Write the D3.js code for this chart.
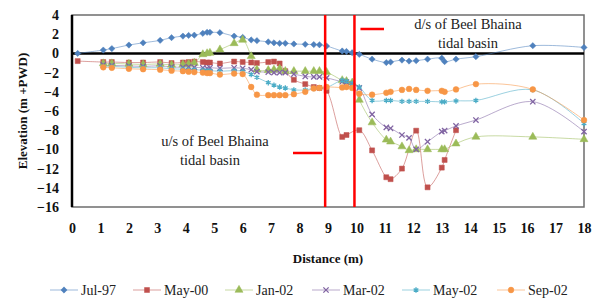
<!DOCTYPE html>
<html>
<head>
<meta charset="utf-8">
<script src="https://cdn.jsdelivr.net/npm/d3@7"></script>
<style>
  body { margin: 0; background: #fff; }
  text { font-family: "Liberation Serif", "Times New Roman", serif; }
</style>
</head>
<body>
<svg id="chart" width="600" height="298"></svg>
<script>
// survey positions (km along river)
const distance = [0.2, 1.1, 1.4, 2.0, 2.5, 3.1, 3.5, 3.9, 4.1, 4.3, 4.6, 4.75, 4.85, 5.2, 5.7, 6.0,
  6.3, 6.5, 6.9, 7.1, 7.3, 7.5, 7.8, 8.2, 8.5, 8.7, 8.95, 9.5, 9.65, 9.85, 10.1, 10.55,
  11.05, 11.2, 11.6, 11.85, 12.1, 12.5, 13.0, 13.1, 13.5, 14.2, 16.2, 18]

const jul97 = [0.0, 0.35, 0.5, 0.87, 1.1, 1.36, 1.64, 1.8, 1.87, 1.9, 2.09, 2.2, 2.2, 2.16, 1.8, 1.67,
  1.4, 1.33, 1.2, 1.1, 1.05, 1.05, 0.98, 0.95, 0.92, 0.9, 0.77, 0.25, 0.2, 0.07, -0.1, -0.6,
  -0.96, -0.9, -0.7, -0.8, -0.76, -0.6, -0.5, -0.86, -0.6, -0.34, 0.8, 0.62]
const may00 = [-0.8, -0.9, -0.9, -0.95, -0.95, -0.9, -1.0, -0.95, -0.9, -0.85, -0.9, -0.95, -0.95, -1.05, -0.85, -0.9,
  -0.95, -1.0, -0.9, -0.85, -1.05, -1.85, -2.75, -3.2, -3.5, -3.6, -3.9, -8.7, -8.5, null, -8.0, -10.1,
  -12.9, -13.1, -12.0, null, -8.05, -13.95, -11.9, -11.1, -8.0, null, null, null]
const jan02 = [null, -1.05, -1.05, -1.1, -1.15, -1.1, -1.2, -1.15, -1.1, -1.0, -0.1, 0.0, 0.05, 0.4, 1.05, 1.4,
  -0.3, -1.7, -1.75, -1.7, -1.6, -1.85, -1.85, -1.85, -1.85, -1.85, -1.95, -2.8, -2.9, -3.05, -4.85, -7.2,
  -9.0, -9.2, -9.7, -10.1, -10.0, -10.0, -10.0, -10.0, -9.4, -8.7, -8.7, -8.95]
const mar02 = [null, -1.2, -1.25, -1.3, -1.35, -1.3, -1.4, -1.45, -1.4, -1.45, -1.5, -1.55, -1.5, -1.55, -1.5, -1.55,
  -1.7, -1.9, -1.95, -2.0, -2.0, -2.0, -2.15, -2.4, -2.45, -2.45, -2.55, -2.95, -3.0, -3.2, -3.6, -6.35,
  -7.7, -7.8, -8.5, -8.8, -10.0, -9.2, -8.15, -8.05, -7.56, -6.94, -5.03, -8.15]
const may02 = [null, -1.35, -1.35, -1.45, -1.5, -1.5, -1.6, -1.65, -1.7, -1.7, -1.75, -1.8, -1.8, -1.85, -1.8, -1.85,
  -2.2, -2.5, -3.05, -3.3, -3.5, -3.6, -3.8, -3.8, -3.65, -3.6, -3.55, -2.8, -2.9, -3.1, -3.5, -4.9,
  -4.9, -4.9, -5.0, -5.0, -5.0, -5.0, -5.05, -5.05, -4.95, -4.9, -3.8, -7.3]
const sep02 = [null, -1.45, -1.5, -1.6, -1.65, -1.7, -1.8, -1.85, -1.9, -1.95, -2.0, -2.05, -2.05, -2.2, -2.1, -2.15,
  -3.5, -4.3, -4.35, -4.35, -4.35, -4.35, -4.25, -4.0, -3.65, -3.6, -3.5, -3.55, -3.5, -3.6, -4.2, -4.3,
  -4.1, -4.0, -3.8, -3.7, -3.8, -3.9, -3.9, -4.0, -3.75, -3.2, -3.75, -6.94]

const seriesNames = ['Jul-97', 'May-00', 'Jan-02', 'Mar-02', 'May-02', 'Sep-02']
const seriesValues = [jul97, may00, jan02, mar02, may02, sep02]
const seriesColors = ['#4f81bd', '#c0504d', '#9bbb59', '#8064a2', '#4bacc6', '#f79646']
const seriesSymbols = [d3.symbolDiamond2, d3.symbolSquare, d3.symbolTriangle, d3.symbolX, d3.symbolAsterisk, d3.symbolCircle]

const xTicks = d3.range(0, 19, 1)
const yTicks = d3.range(-16, 5, 2)
const basinLines = [8.9, 9.93] // red boundary lines

const svg = d3.select('#chart')
const x = d3.scaleLinear().domain([0, 18]).range([72, 584])
const y = d3.scaleLinear().domain([-16, 4]).range([207, 15])

// plot frame
svg.append('rect')
  .attr('x', x(0)).attr('y', y(4))
  .attr('width', x(18) - x(0)).attr('height', y(-16) - y(4))
  .attr('fill', 'none').attr('stroke', '#6d6d6d').attr('stroke-width', 1.5)

// y axis
const yAxis = svg.append('g')
  .attr('transform', `translate(${x(0)},0)`)
  .call(d3.axisLeft(y).tickValues(yTicks).tickSize(0).tickPadding(13))
yAxis.select('.domain').remove()
yAxis.selectAll('text')
  .attr('font-size', 14).attr('font-weight', 'bold').attr('fill', '#111')
  .style('font-family', '"Liberation Serif", serif')

// x axis
const xAxis = svg.append('g')
  .attr('transform', `translate(0,${y(-16)})`)
  .call(d3.axisBottom(x).tickValues(xTicks).tickSize(0).tickPadding(16))
xAxis.select('.domain').remove()
xAxis.selectAll('text')
  .attr('font-size', 14).attr('font-weight', 'bold').attr('fill', '#111')
  .style('font-family', '"Liberation Serif", serif')

// left axis line and zero line
svg.append('line')
  .attr('x1', x(0)).attr('x2', x(0)).attr('y1', y(4)).attr('y2', y(-16))
  .attr('stroke', '#000').attr('stroke-width', 2.5)
svg.append('line')
  .attr('x1', x(0)).attr('x2', x(18)).attr('y1', y(0)).attr('y2', y(0))
  .attr('stroke', '#000').attr('stroke-width', 2.5)

// axis titles
svg.append('text')
  .attr('transform', `translate(22,${(y(4) + y(-16)) / 2}) rotate(-90)`)
  .attr('text-anchor', 'middle').attr('dy', '0.35em')
  .attr('font-size', 13).attr('font-weight', 'bold').attr('fill', '#111')
  .text('Elevation (m +PWD)')
svg.append('text')
  .attr('x', x(9)).attr('y', 258).attr('dy', '0.35em')
  .attr('text-anchor', 'middle')
  .attr('font-size', 13).attr('font-weight', 'bold').attr('fill', '#111')
  .text('Distance (m)')

const line = d3.line()
  .x(d => x(d[0]))
  .y(d => y(d[1]))
  .curve(d3.curveCatmullRom)

const plot = svg.append('g')

seriesValues.forEach((vals, i) => {
  const pts = distance.map((d, j) => [d, vals[j]]).filter(p => p[1] != null)
  plot.append('path')
    .datum(pts)
    .attr('d', line)
    .attr('fill', 'none')
    .attr('stroke', seriesColors[i])
    .attr('stroke-opacity', 0.55)
    .attr('stroke-width', 1)
})

function drawMarker (g, i, cx, cy) {
  const stroked = i === 3 || i === 4
  const size = i === 2 ? 28 : (i === 5 ? 26 : (stroked ? 20 : 25))
  g.append('path')
    .attr('transform', `translate(${cx},${cy})`)
    .attr('d', d3.symbol().type(seriesSymbols[i]).size(size)())
    .attr('fill', stroked ? 'none' : seriesColors[i])
    .attr('stroke', seriesColors[i])
    .attr('stroke-width', stroked ? 1.3 : 0.5)
}

seriesValues.forEach((vals, i) => {
  distance.forEach((d, j) => {
    if (vals[j] != null) drawMarker(plot, i, x(d), y(vals[j]))
  })
})

// basin boundary lines and pointers
basinLines.forEach(b => {
  svg.append('line')
    .attr('x1', x(b)).attr('x2', x(b)).attr('y1', y(4)).attr('y2', y(-16))
    .attr('stroke', '#f00').attr('stroke-width', 2.5)
})
svg.append('line')
  .attr('x1', 293).attr('x2', x(basinLines[0]) - 3).attr('y1', 153).attr('y2', 153)
  .attr('stroke', '#f00').attr('stroke-width', 2.5)
svg.append('line')
  .attr('x1', x(basinLines[1]) + 6).attr('x2', 384).attr('y1', 29).attr('y2', 29)
  .attr('stroke', '#f00').attr('stroke-width', 2.5)

const labels = [
  { text: 'u/s of Beel Bhaina', x: 215, y: 141 },
  { text: 'tidal basin', x: 210, y: 160 },
  { text: 'd/s of Beel Bhaina', x: 468, y: 24 },
  { text: 'tidal basin', x: 468, y: 43 }
]
svg.selectAll('.note').data(labels).enter().append('text')
  .attr('class', 'note')
  .attr('x', d => d.x).attr('y', d => d.y).attr('dy', '0.35em')
  .attr('text-anchor', 'middle')
  .attr('font-size', 14.5).attr('fill', '#222')
  .text(d => d.text)

// legend
const legendX = [50, 133, 225, 312, 402, 497]
const legend = svg.append('g')
seriesNames.forEach((name, i) => {
  const lx = legendX[i]
  legend.append('line')
    .attr('x1', lx).attr('x2', lx + 28).attr('y1', 290).attr('y2', 290)
    .attr('stroke', seriesColors[i]).attr('stroke-opacity', 0.55)
  drawMarker(legend, i, lx + 14, 290)
  legend.append('text')
    .attr('x', lx + 31).attr('y', 290).attr('dy', '0.35em')
    .attr('font-size', 14).attr('fill', '#222')
    .text(name)
})
</script>
</body>
</html>
